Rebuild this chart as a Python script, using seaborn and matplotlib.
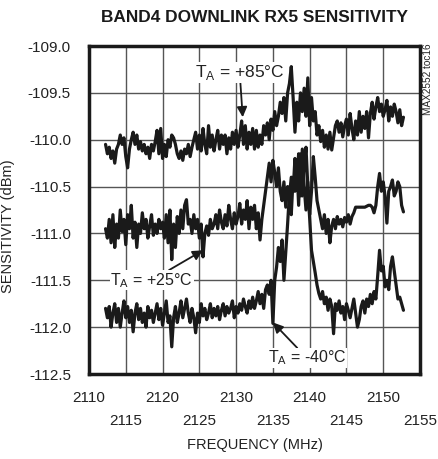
import numpy as np
import pandas as pd
import matplotlib
matplotlib.use("Agg")
import matplotlib.pyplot as plt
import seaborn as sns

# ---------------- data ----------------
freq_start = 2112.25
freq_end = 2152.75

t85 = [
    -110.05, -110.15, -110.08, -110.20,
    -110.12, -110.25, -110.10, -110.05,
    -109.95, -110.05, -109.98, -110.18,
    -110.30, -110.10, -110.00, -109.92,
    -110.05, -109.95, -110.10, -110.02,
    -110.12, -110.05, -110.15, -110.08,
    -110.20, -110.05, -110.12, -110.02,
    -109.90, -110.15, -109.88, -110.20,
    -110.05, -110.18, -110.00, -110.08,
    -109.95, -109.98, -110.05, -110.15,
    -110.20, -110.12, -110.22, -110.10,
    -110.15, -110.05, -110.18, -110.08,
    -110.00, -109.92, -110.10, -109.95,
    -110.12, -109.88, -110.05, -110.15,
    -109.85, -110.08, -109.95, -110.12,
    -110.00, -109.90, -110.10, -109.95,
    -110.05, -109.95, -110.15, -109.98,
    -110.10, -109.92, -110.05, -109.90,
    -110.08, -109.95, -109.80, -110.05,
    -109.85, -110.10, -109.92, -110.05,
    -109.88, -110.10, -109.90, -110.08,
    -109.95, -110.05, -109.85, -109.95,
    -109.82, -110.00, -109.78, -109.90,
    -109.70, -109.85, -109.75, -109.60,
    -109.72, -109.55, -109.80, -109.50,
    -109.40, -109.22, -109.55, -109.92,
    -109.60, -109.80, -109.50, -109.70,
    -109.45, -109.75, -109.34, -109.85,
    -109.55, -109.80, -109.70, -109.95,
    -109.85, -110.02, -109.90, -110.08,
    -109.95, -110.10, -109.92, -110.11,
    -109.98, -109.85, -109.80, -109.92,
    -109.82, -109.97, -109.85, -109.78,
    -109.95, -109.72, -109.88, -110.00,
    -109.80, -109.95, -109.70, -109.92,
    -109.75, -109.88, -109.70, -109.98,
    -109.72, -109.60, -109.78, -109.65,
    -109.55, -109.70, -109.62, -109.75,
    -109.68, -109.58, -109.80, -109.65,
    -109.75, -109.62, -109.70, -109.82,
    -109.68, -109.85, -109.76,
]

t25 = [
    -110.95, -111.05, -110.85, -111.10,
    -110.80, -111.15, -110.90, -111.05,
    -110.75, -110.98, -110.85, -111.12,
    -110.80, -110.95, -110.70, -111.05,
    -110.88, -111.15, -110.90, -111.00,
    -110.78, -110.95, -110.85, -111.05,
    -110.92, -110.80, -111.02, -110.90,
    -111.00, -110.85, -110.95, -110.88,
    -111.05, -110.80, -111.10, -110.75,
    -111.28, -110.90, -111.15, -110.82,
    -111.00, -110.75, -110.95, -110.70,
    -110.64, -110.90, -110.85, -111.00,
    -110.80, -110.95, -110.85, -111.05,
    -110.90, -111.25, -111.00, -110.92,
    -111.02, -110.85, -110.95, -110.90,
    -110.80, -110.95, -110.75, -110.88,
    -110.95, -110.80, -110.92, -110.70,
    -110.85, -110.95, -110.78, -110.90,
    -110.82, -110.68, -110.90, -110.75,
    -110.85, -110.65, -110.95, -110.72,
    -110.85, -110.70, -110.95, -110.78,
    -111.07, -110.85, -110.70, -110.55,
    -110.40, -110.25, -110.45, -110.22,
    -110.35, -110.50, -110.30, -110.55,
    -110.65, -110.45, -110.72, -110.50,
    -110.60, -110.40, -110.55, -110.20,
    -110.45, -110.15, -110.60, -110.10,
    -110.50, -110.75, -110.45, -110.80,
    -110.55, -110.18, -110.40, -110.65,
    -110.75, -110.85, -110.95, -110.80,
    -111.00, -110.85, -111.10, -110.92,
    -110.85, -110.95, -110.82, -110.90,
    -110.85, -110.93, -110.83, -110.88,
    -110.80, -110.90, -110.82, -110.78,
    -110.72, -110.72, -110.72, -110.72,
    -110.72, -110.72, -110.71, -110.70,
    -110.70, -110.72, -110.78, -110.70,
    -110.50, -110.36, -110.55, -110.45,
    -110.60, -110.89, -110.55, -110.50,
    -110.43, -110.60, -110.55, -110.45,
    -110.50, -110.70, -110.77,
]

t40 = [
    -111.80, -111.90, -111.78, -112.00,
    -111.85, -111.75, -111.95, -111.80,
    -112.00, -111.85, -111.72, -111.90,
    -111.78, -111.95, -111.82, -112.05,
    -111.85, -111.75, -111.92, -111.80,
    -111.95, -111.85, -112.00, -111.78,
    -111.90, -111.82, -111.95, -111.85,
    -111.75, -111.92, -111.80, -111.98,
    -111.85, -111.72, -111.95, -111.88,
    -112.21, -111.90, -111.78, -111.95,
    -111.85, -111.72, -111.90, -111.80,
    -111.70, -111.85, -111.95, -111.80,
    -111.90, -112.06, -111.85, -111.95,
    -111.75, -111.88, -111.80, -111.92,
    -111.85, -111.75, -111.90, -111.80,
    -111.88, -111.78, -111.92, -111.82,
    -111.75, -111.88, -111.78, -111.85,
    -111.80, -111.72, -111.90, -111.78,
    -111.85, -111.75, -111.82, -111.70,
    -111.78, -111.85, -111.72, -111.80,
    -111.68, -111.80, -111.72, -111.62,
    -111.75, -111.65, -111.80, -111.60,
    -111.55, -111.65, -111.50, -111.96,
    -111.50, -111.36, -111.15, -111.30,
    -111.07, -111.50, -111.20, -110.90,
    -110.57, -110.80, -110.40, -110.55,
    -110.25, -110.70, -110.15, -110.60,
    -110.30, -110.08, -110.50, -110.85,
    -111.18, -111.30, -111.42, -111.55,
    -111.64, -111.70, -111.62, -111.75,
    -111.68, -111.82, -111.70, -111.78,
    -112.07, -111.75, -111.82, -111.72,
    -111.85, -111.78, -111.92, -111.75,
    -111.82, -111.90, -111.80, -111.70,
    -111.85, -112.00, -111.92, -111.78,
    -111.72, -111.85, -111.70, -111.78,
    -111.65, -111.75, -111.62, -111.70,
    -111.45, -111.18, -111.40, -111.35,
    -111.57, -111.50, -111.60, -111.35,
    -111.25, -111.40, -111.55, -111.70,
    -111.68, -111.75, -111.82,
]

y_ticks = [-109.0, -109.5, -110.0, -110.5, -111.0, -111.5, -112.0, -112.5]
y_labels = ["-109.0", "-109.5", "-110.0", "-110.5", "-111.0", "-111.5", "-112.0", "-112.5"]
x_ticks_upper = [2110, 2120, 2130, 2140, 2150]
x_labels_upper = ["2110", "2120", "2130", "2140", "2150"]
x_ticks_lower = [2115, 2125, 2135, 2145, 2155]
x_labels_lower = ["2115", "2125", "2135", "2145", "2155"]

title = "BAND4 DOWNLINK RX5 SENSITIVITY"
x_label = "FREQUENCY (MHz)"
y_label = "SENSITIVITY (dBm)"
side_note = "MAX2552 toc16"

# ---------------- build table ----------------
freq = np.linspace(freq_start, freq_end, len(t85))
df = pd.concat([
    pd.DataFrame({"freq": freq, "sens": t85, "temp": "+85"}),
    pd.DataFrame({"freq": freq, "sens": t25, "temp": "+25"}),
    pd.DataFrame({"freq": freq, "sens": t40, "temp": "-40"}),
])

sns.set_style("white")
plt.rcParams["font.family"] = ["Liberation Sans", "DejaVu Sans"]
plt.rcParams["mathtext.fontset"] = "custom"
plt.rcParams["mathtext.rm"] = "Liberation Sans"

fig = plt.figure(figsize=(4.39, 4.59), dpi=100)
ax = fig.add_axes([89 / 439, 1 - 374 / 459, 331 / 439, 328 / 459])

sns.lineplot(data=df, x="freq", y="sens", units="temp", estimator=None,
             color="#1a1a1a", lw=2.3, ax=ax, legend=False)

ax.set_xlim(2110, 2155)
ax.set_ylim(-112.5, -109.0)
ax.set_xticks(x_ticks_upper)
ax.set_xticklabels(x_labels_upper, fontsize=11, color="#222")
ax.set_xticks(x_ticks_lower, minor=True)
ax.set_xticklabels(x_labels_lower, minor=True, fontsize=11, color="#222")
ax.set_yticks(y_ticks)
ax.set_yticklabels(y_labels, fontsize=11, color="#222")
ax.tick_params(axis="x", which="major", length=0, pad=12)
ax.tick_params(axis="x", which="minor", length=0, pad=29)
ax.tick_params(axis="y", length=0, pad=13)
ax.grid(True, which="both", color="#555555", lw=1.0)
for s in ax.spines.values():
    s.set_linewidth(2.5)
    s.set_color("#1a1a1a")

ax.set_xlabel(x_label, fontsize=10.5, color="#222", labelpad=7)
ax.set_ylabel(y_label, fontsize=10.5, color="#222")
ax.yaxis.set_label_coords(-0.225, 0.45)
fig.text(0.579, 0.962, title, ha="center", va="center", fontsize=12.4,
         fontweight="bold", color="#1a1a1a")
fig.text(0.975, 0.905, side_note, rotation=90, ha="center", va="top",
         fontsize=7.2, color="#222")

bbox = dict(boxstyle="square,pad=0.05", fc="white", ec="none")
arrow = dict(arrowstyle="-|>", color="#1a1a1a", lw=1.3, mutation_scale=15,
             shrinkA=0, shrinkB=0)
ax.annotate(r"T$_\mathregular{A}$ = +85°C", xy=(2130.9, -109.76), xytext=(2124.4, -109.28),
            fontsize=12.5, color="#222", ha="left", va="center",
            bbox=bbox, arrowprops=arrow)
ax.annotate(r"T$_\mathregular{A}$ = +25°C", xy=(2125.5, -111.18), xytext=(2112.9, -111.5),
            fontsize=11.5, color="#222", ha="left", va="center",
            bbox=bbox, arrowprops=arrow)
ax.annotate(r"T$_\mathregular{A}$ = -40°C", xy=(2135.0, -111.95), xytext=(2134.3, -112.33),
            fontsize=11.5, color="#222", ha="left", va="center",
            bbox=bbox, arrowprops=arrow)

fig.savefig("out.png", dpi=100)
